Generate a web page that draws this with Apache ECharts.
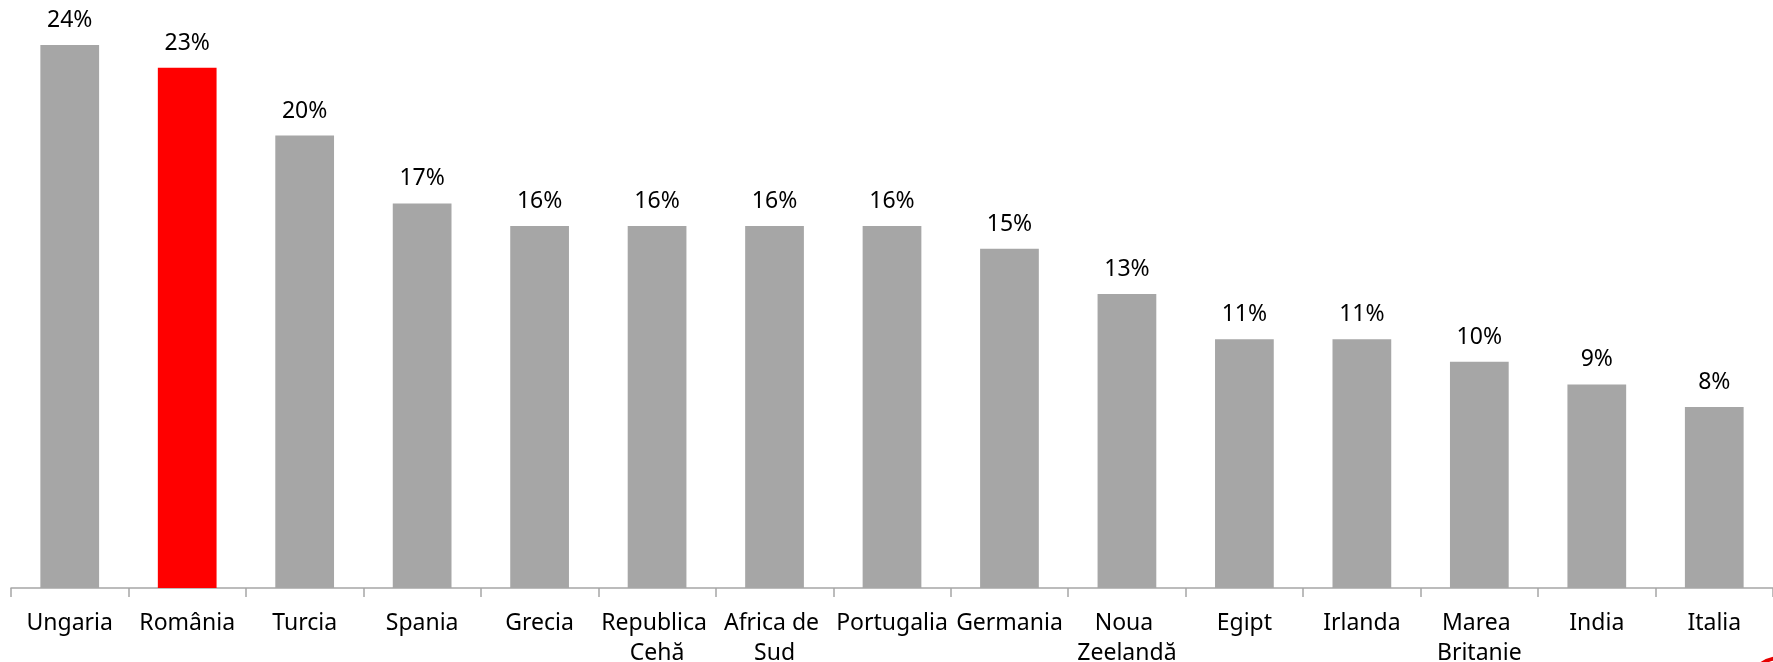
<!DOCTYPE html>
<html>
<head>
<meta charset="utf-8">
<script src="https://cdn.jsdelivr.net/npm/echarts@6/dist/echarts.min.js"></script>
<style>
html,body{margin:0;padding:0;background:#fff;}
#chart{width:1773px;height:662px;}
</style>
</head>
<body>
<div id="chart"></div>
<script>
var categories = ["Ungaria","România","Turcia","Spania","Grecia","Republica Cehă","Africa de Sud","Portugalia","Germania","Noua Zeelandă","Egipt","Irlanda","Marea Britanie","India","Italia"];
var values = [24,23,20,17,16,16,16,16,15,13,11,11,10,9,8];
var highlight = "România";

var chart = echarts.init(document.getElementById('chart'));
var FONT = '"Noto Sans", sans-serif';
chart.setOption({
  animation:false,
  grid:{left:11, right:0, top:45, bottom:74, containLabel:false, outerBoundsMode:'none'},
  xAxis:{
    type:'category',
    data:categories,
    axisLine:{lineStyle:{color:'#a6a6a6', width:1.5}},
    axisTick:{show:true, length:9, lineStyle:{color:'#a6a6a6', width:1.5}},
    axisLabel:{
      color:'#000', fontFamily:FONT, fontSize:23, margin:20,
      lineHeight:30, width:114, overflow:'break', interval:0
    }
  },
  yAxis:{type:'value', min:0, max:24, show:false, splitLine:{show:false}},
  series:[{
    type:'bar',
    barWidth:'50%',
    data:values.map(function(v,i){
      return {value:v, itemStyle:{color: categories[i]===highlight ? '#ff0000' : '#a6a6a6'}};
    }),
    label:{show:true, position:'top', distance:13, color:'#000', fontFamily:FONT, fontSize:23,
      formatter:function(p){return p.value+'%';}}
  }],
  graphic:[{
    type:'circle', shape:{cx:1780, cy:690, r:32}, silent:true,
    style:{fill:'none', stroke:'#e60000', lineWidth:4}
  }]
});
</script>
</body>
</html>
